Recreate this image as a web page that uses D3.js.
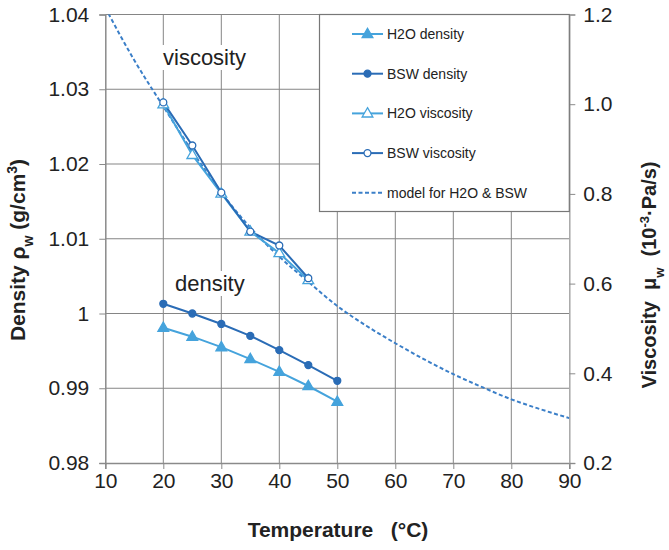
<!DOCTYPE html>
<html><head><meta charset="utf-8">
<script src="https://cdn.jsdelivr.net/npm/d3@7"></script>
<style>body{margin:0;background:#fff}svg{display:block}text{font-family:"Liberation Sans",Arial,sans-serif;fill:#222}</style>
</head><body><svg id="c" width="669" height="550"></svg>
<script>
const temps = [20, 25, 30, 35, 40, 45, 50];
const h2oDensity = [0.9981, 0.9969, 0.9955, 0.9939, 0.9922, 0.9903, 0.9882];
const bswDensity = [1.0013, 1.0000, 0.9986, 0.9970, 0.9951, 0.9931, 0.9910];
const viscTemps = [20, 25, 30, 35, 40, 45];
const h2oViscosity = [1.000, 0.887, 0.801, 0.716, 0.668, 0.608];
const bswViscosity = [1.004, 0.908, 0.803, 0.716, 0.685, 0.612];
const modelTemps = [10, 15, 20, 25, 30, 35, 40, 45, 50, 55, 60, 65, 70, 75, 80, 85, 90];
const modelViscosity = [1.215, 1.098, 0.995, 0.895, 0.803, 0.725, 0.660, 0.604, 0.550, 0.506, 0.467, 0.431, 0.398, 0.369, 0.342, 0.320, 0.300];
const xTicks = [10, 20, 30, 40, 50, 60, 70, 80, 90];
const yLeftTicks = [0.98, 0.99, 1.00, 1.01, 1.02, 1.03, 1.04];
const yRightTicks = [0.2, 0.4, 0.6, 0.8, 1.0, 1.2];
const legendLabels = ["H2O density", "BSW density", "H2O viscosity", "BSW viscosity", "model for H2O & BSW"];

const cLight = "#45a3dc", cDark = "#2a6cb6", cModel = "#3b7fc8";
const svg = d3.select("#c");
const L = 105.3, R = 569.3, T = 14.5, B = 463;
const x = d3.scaleLinear().domain([10, 90]).range([L, R]);
const yL = d3.scaleLinear().domain([0.98, 1.04]).range([B, T]);
const yR = d3.scaleLinear().domain([0.2, 1.2]).range([B, T]);

svg.append("defs").append("clipPath").attr("id", "clip")
  .append("rect").attr("x", L).attr("y", T).attr("width", R - L).attr("height", B - T);

// grid
const grid = svg.append("g");
grid.selectAll(".gv").data(xTicks.slice(1, -1)).join("line")
  .attr("x1", d => x(d)).attr("x2", d => x(d)).attr("y1", T).attr("y2", B)
  .attr("stroke", "#858585").attr("stroke-width", 1);
grid.selectAll(".gh").data(yLeftTicks.slice(1)).join("line")
  .attr("x1", L).attr("x2", R).attr("y1", d => yL(d)).attr("y2", d => yL(d))
  .attr("stroke", "#858585").attr("stroke-width", 1);

// axes
const fmtL = d => d === 1 ? "1" : d3.format(".2f")(d);
const axL = svg.append("g").attr("transform", `translate(${L},0)`)
  .call(d3.axisLeft(yL).tickValues(yLeftTicks).tickFormat(fmtL).tickSize(6).tickPadding(10));
const axB = svg.append("g").attr("transform", `translate(0,${B})`)
  .call(d3.axisBottom(x).tickValues(xTicks).tickSize(6).tickPadding(4));
const axR = svg.append("g").attr("transform", `translate(${R},0)`)
  .call(d3.axisRight(yR).tickValues(yRightTicks).tickFormat(d3.format(".1f")).tickSize(6).tickPadding(8));
[axL, axB, axR].forEach(a => {
  a.select(".domain").attr("stroke", "#8a8a8a").attr("stroke-width", 1.5);
  a.selectAll(".tick line").attr("stroke", "#8a8a8a");
  a.selectAll("text").style("font-size", "21px").style("font-family", '"Liberation Sans",Arial,sans-serif').attr("fill", "#222");
});
axR.select(".domain").attr("stroke", "#a8a8a8");

// in-plot labels with white background
function bgLabel(txt, tx, ty) {
  const t = svg.append("text").attr("x", tx).attr("y", ty).style("font-size", "22px").text(txt);
  const bb = t.node().getBBox();
  svg.insert("rect", () => t.node()).attr("x", bb.x - 1).attr("y", bb.y).attr("width", bb.width + 2).attr("height", bb.height).attr("fill", "#fff");
}
bgLabel("viscosity", 163, 65);
bgLabel("density", 175, 291);

// model line
const plot = svg.append("g").attr("clip-path", "url(#clip)");
plot.append("path").datum(modelTemps.map((t, i) => [t, modelViscosity[i]]))
  .attr("d", d3.line().x(d => x(d[0])).y(d => yR(d[1])).curve(d3.curveMonotoneX))
  .attr("fill", "none").attr("stroke", cModel).attr("stroke-width", 2).attr("stroke-dasharray", "4,2.5");

function series(ts, vals, y, color, marker, filled) {
  const pts = ts.map((t, i) => [x(t), y(vals[i])]);
  plot.append("path").datum(pts).attr("d", d3.line()).attr("fill", "none").attr("stroke", color).attr("stroke-width", 2);
  drawMarkers(svg.append("g"), pts, color, marker, filled);
}
function drawMarkers(g, pts, color, marker, filled) {
  const sym = d3.symbol().type(marker === "tri" ? d3.symbolTriangle : d3.symbolCircle).size(marker === "tri" ? 50 : 38);
  g.selectAll("path.m").data(pts).join("path")
    .attr("transform", d => `translate(${d[0]},${d[1] + (marker === "tri" ? 0.5 : 0)})`)
    .attr("d", sym).attr("fill", filled ? color : "#fff").attr("stroke", color).attr("stroke-width", 1.3);
}
series(temps, h2oDensity, yL, cLight, "tri", true);
series(temps, bswDensity, yL, cDark, "circ", true);
series(viscTemps, h2oViscosity, yR, cLight, "tri", false);
series(viscTemps, bswViscosity, yR, cDark, "circ", false);

// legend
const lg = svg.append("g");
lg.append("rect").attr("x", 319.5).attr("y", 14.5).attr("width", R - 319.5).attr("height", 197)
  .attr("fill", "#fff").attr("stroke", "#777").attr("stroke-width", 1.2);
const legendDefs = [
  {c: cLight, m: "tri", f: true}, {c: cDark, m: "circ", f: true},
  {c: cLight, m: "tri", f: false}, {c: cDark, m: "circ", f: false}, {c: cModel, m: null}
];
legendLabels.forEach((lab, i) => {
  const ly = 34 + i * 39.7;
  const d = legendDefs[i];
  if (d.m) {
    lg.append("line").attr("x1", 352).attr("x2", 383).attr("y1", ly).attr("y2", ly).attr("stroke", d.c).attr("stroke-width", 2);
    drawMarkers(lg.append("g"), [[367.5, ly]], d.c, d.m, d.f);
  } else {
    lg.append("line").attr("x1", 352).attr("x2", 383).attr("y1", ly).attr("y2", ly).attr("stroke", d.c).attr("stroke-width", 2).attr("stroke-dasharray", "4,2.5");
  }
  lg.append("text").attr("x", 387).attr("y", ly + 5).style("font-size", "14px").attr("fill", "#333").text(lab);
});

// axis titles
svg.append("text").attr("x", 338).attr("y", 537).attr("text-anchor", "middle")
  .style("font-size", "21px").style("font-weight", "bold").attr("xml:space", "preserve").text("Temperature   (°C)");

const lt = svg.append("text").attr("transform", "translate(25,250) rotate(-90)").attr("text-anchor", "middle")
  .style("font-size", "21px").style("font-weight", "bold").attr("xml:space", "preserve");
lt.append("tspan").text("Density ρ");
lt.append("tspan").attr("baseline-shift", "sub").style("font-size", "14px").text("w");
lt.append("tspan").text(" (g/cm");
lt.append("tspan").attr("baseline-shift", "super").style("font-size", "14px").text("3");
lt.append("tspan").text(")");

const rt = svg.append("text").attr("transform", "translate(656,275) rotate(-90)").attr("text-anchor", "middle")
  .style("font-size", "20px").style("font-weight", "bold").attr("xml:space", "preserve");
rt.append("tspan").text("Viscosity  μ");
rt.append("tspan").attr("baseline-shift", "sub").style("font-size", "13px").text("w");
rt.append("tspan").text("  (10");
rt.append("tspan").attr("baseline-shift", "super").style("font-size", "13px").text("-3");
rt.append("tspan").text("·Pa/s)");
</script></body></html>
